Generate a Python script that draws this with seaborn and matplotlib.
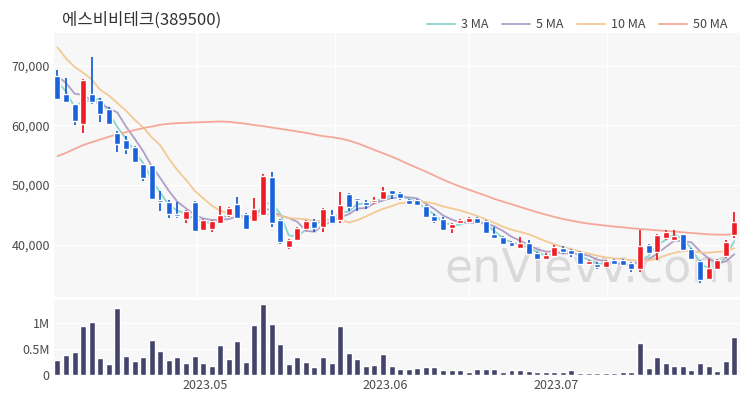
import numpy as np
import pandas as pd
import matplotlib
matplotlib.use("Agg")
import matplotlib.pyplot as plt
import seaborn as sns

# daily candles
opens = [68300, 65200, 63550, 60300, 65250, 64250, 62700, 58800, 57500, 56400,
         53500, 53400, 47550, 47150, 45200, 44350, 47150, 42400, 42600, 43550,
         44900, 46800, 45200, 43900, 44950, 51350, 44200, 39600, 40750, 42600,
         44000, 42950, 45050, 44100, 48450, 47900, 47150, 47100, 47700, 49100,
         48700, 47550, 47450, 46500, 44750, 44350, 42800, 43650, 43800, 44550,
         44000, 41750, 41300, 40450, 39500, 40300, 38600, 37650, 38050, 39500,
         39050, 38750, 36700, 36800, 36250, 37500, 37500, 36900, 35950, 39900,
         38750, 41200, 40850, 41750, 39350, 37250, 34300, 35950, 38050, 41600]
highs = [69300, 67900, 63650, 67750, 71400, 64600, 63000, 59000, 58200, 56550,
         53600, 53400, 49000, 47450, 47150, 45750, 47300, 44250, 44100, 46500,
         46350, 48000, 45350, 47900, 51900, 52200, 44350, 41000, 42950, 44100,
         44350, 46200, 45750, 48850, 48700, 47900, 47550, 48000, 49650, 49200,
         48850, 47700, 47700, 46600, 45100, 44650, 43550, 44250, 44650, 44650,
         44100, 42950, 41400, 40600, 41300, 40750, 38750, 38650, 39900, 39800,
         39350, 38950, 37500, 37100, 37350, 37650, 37650, 37100, 42400, 40150,
         41850, 42500, 42500, 41850, 39500, 37350, 37650, 37650, 40850, 45500]
lows = [64200, 63800, 60000, 58800, 63550, 60600, 60300, 55550, 55250, 53750,
        50700, 47700, 45650, 44550, 44550, 43650, 42300, 42300, 42150, 43400,
        44650, 44350, 42550, 43800, 44750, 42950, 40150, 39350, 40600, 42300,
        42150, 42150, 43550, 43650, 45650, 45600, 46050, 46800, 47550, 47700,
        47550, 46600, 46450, 44550, 43650, 42300, 41950, 43400, 43650, 43550,
        41850, 41000, 40050, 39600, 39400, 38200, 37500, 37500, 37950, 38500,
        37950, 36700, 36550, 35850, 36150, 36550, 36550, 35400, 35400, 38500,
        37500, 40850, 40600, 39050, 37500, 33550, 34150, 35800, 37800, 41200]
closes = [64400, 63950, 60750, 67600, 63950, 61900, 60300, 56950, 56000, 53850,
          51250, 47700, 47150, 45200, 44750, 45650, 42300, 44100, 43900, 44950,
          46200, 44550, 42700, 46050, 51550, 43550, 40450, 40750, 42850, 44000,
          42800, 46050, 43650, 46600, 46350, 47550, 46600, 47550, 49000, 48450,
          47900, 46800, 46600, 44650, 44000, 42500, 43400, 44100, 44550, 43650,
          42000, 41200, 40150, 39700, 40300, 38400, 37650, 38200, 39600, 38750,
          38500, 36800, 37200, 36250, 37200, 36800, 36650, 35950, 39700, 38600,
          41600, 42150, 41400, 39150, 37650, 34150, 36100, 37500, 40450, 43800]
volume = [0.29, 0.38, 0.44, 0.94, 1.02, 0.33, 0.21, 1.29, 0.36, 0.27,
          0.34, 0.67, 0.46, 0.29, 0.34, 0.24, 0.37, 0.23, 0.17, 0.58,
          0.31, 0.65, 0.25, 0.97, 1.38, 0.98, 0.59, 0.21, 0.35, 0.25,
          0.16, 0.35, 0.24, 0.94, 0.43, 0.31, 0.17, 0.20, 0.41, 0.17,
          0.12, 0.12, 0.14, 0.16, 0.16, 0.10, 0.10, 0.10, 0.065, 0.12,
          0.12, 0.12, 0.065, 0.09, 0.09, 0.08, 0.065, 0.05, 0.05, 0.05,
          0.09, 0.045, 0.04, 0.04, 0.04, 0.04, 0.05, 0.065, 0.61, 0.13,
          0.35, 0.23, 0.18, 0.17, 0.10, 0.24, 0.17, 0.08, 0.27, 0.74]
# closes before the visible window (estimated from where the short MAs start)
prior_close = [82500, 75000, 77500, 75000, 79500, 69700, 69700, 68800, 68700]
# 50-day MA (needs history not shown)
ma50 = [54830, 55390, 56060, 56680, 57180, 57630, 58080, 58520, 58860, 59200,
        59530, 59810, 60090, 60260, 60370, 60430, 60490, 60540, 60600, 60650,
        60600, 60430, 60260, 60040, 59870, 59640, 59420, 59200, 58970, 58750,
        58470, 58190, 58020, 57800, 57460, 57010, 56450, 55890, 55330, 54770,
        54150, 53480, 52870, 52250, 51580, 50910, 50300, 49730, 49230, 48720,
        48220, 47670, 47220, 46780, 46330, 45880, 45440, 45040, 44650, 44310,
        44030, 43750, 43530, 43360, 43190, 43030, 42910, 42750, 42630, 42520,
        42410, 42300, 42190, 42080, 41960, 41850, 41740, 41680, 41680, 41740]
tick_pos = [17.2, 38.2, 58.2]
tick_labels = ["2023.05", "2023.06", "2023.07"]

df = pd.DataFrame({"open": opens, "high": highs, "low": lows, "close": closes,
                   "volume": np.array(volume) * 1e6})
df["idx"] = np.arange(len(df))
allc = pd.Series(prior_close + closes)
n0 = len(prior_close)
df["ma3"] = allc.rolling(3).mean().iloc[n0:].values
df["ma5"] = allc.rolling(5).mean().iloc[n0:].values
df["ma10"] = allc.rolling(10).mean().iloc[n0:].values
df["ma50"] = ma50

sns.set_theme(style="white")
plt.rcParams["font.family"] = ["Noto Sans CJK KR", "DejaVu Sans"]

up_c = "#ee1c25"
dn_c = "#1a62db"
bg = "#f7f7f7"

fig = plt.figure(figsize=(7.5, 4), dpi=100)
ax = fig.add_axes([0.072, 0.2575, 0.915, 0.66])
axv = fig.add_axes([0.072, 0.0625, 0.915, 0.1875], sharex=ax)

for a in (ax, axv):
    a.set_facecolor(bg)
    for s in a.spines.values():
        s.set_visible(False)
    a.tick_params(length=0, labelsize=9, colors="#4a4a4a", pad=3)

# grid
for y in [40000, 50000, 60000, 70000]:
    ax.axhline(y, color="white", lw=1, zorder=0)
for x in [16.3, 32.4, 48.0, 64.1]:
    ax.axvline(x, color="white", lw=1, zorder=0)
for y in [0.5e6, 1e6]:
    axv.axhline(y, color="white", lw=1, zorder=0)

ax.text(0.995, 0.02, "enVievv.com", transform=ax.transAxes, ha="right", va="bottom",
        fontsize=33, color="#dadada", zorder=1, family="DejaVu Sans")

# moving averages
ma_cols = [("ma3", "3 MA", "#86d6cd"), ("ma5", "5 MA", "#ad9fc8"),
           ("ma10", "10 MA", "#f3c994"), ("ma50", "50 MA", "#f5a899")]
for col, lab, c in ma_cols:
    sns.lineplot(data=df, x="idx", y=col, color=c, lw=1.3, label=lab, ax=ax, zorder=2)

# candles
up = df["close"] >= df["open"]
colors = np.where(up, up_c, dn_c)
body = (df["close"] - df["open"]).abs().clip(lower=80)
ax.vlines(df["idx"], df["low"], df["high"], color=colors, lw=1.3, zorder=3)
ax.bar(df["idx"], body, bottom=df[["open", "close"]].min(axis=1), width=0.7,
       color=colors, zorder=4)

ax.set_ylim(31230, 75480)
ax.set_xlim(-0.4, 79.7)
ax.set_yticks([40000, 50000, 60000, 70000])
ax.set_yticklabels([f"{v:,}" for v in [40000, 50000, 60000, 70000]])
ax.set_xlabel("")
ax.set_ylabel("")
ax.tick_params(axis="x", labelbottom=False)
h, l = ax.get_legend_handles_labels()
ax.get_legend().remove()
fig.legend(h, l, loc="center right", bbox_to_anchor=(0.985, 0.9375), ncol=4,
           frameon=False, handlelength=2.2, columnspacing=1.1, handletextpad=0.5,
           fontsize=9, labelcolor="#444444")

# volume
sns.barplot(data=df, x="idx", y="volume", native_scale=True, color="#44446a",
            saturation=1, width=0.7, errorbar=None, ax=axv, zorder=2)
axv.set_ylim(0, 1.45e6)
axv.set_yticks([0, 0.5e6, 1e6])
axv.set_yticklabels(["0", "0.5M", "1M"])
axv.set_xlim(-0.4, 79.7)
axv.set_xticks(tick_pos)
axv.set_xticklabels(tick_labels)
axv.set_xlabel("")
axv.set_ylabel("")

fig.text(0.083, 0.95, "에스비비테크(389500)", ha="left", va="center", fontsize=12,
         color="#333333")

fig.savefig("out.png", dpi=100)
